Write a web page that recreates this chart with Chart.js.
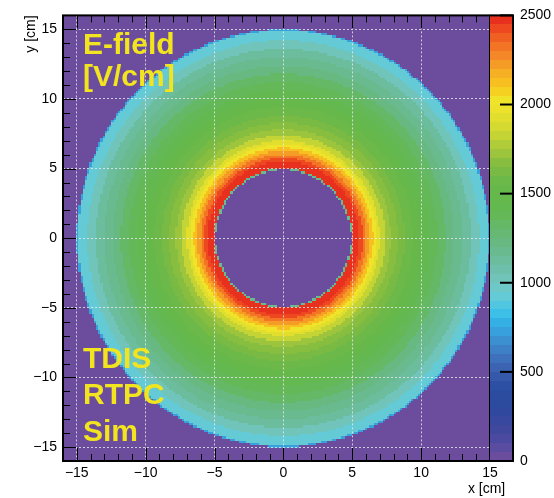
<!DOCTYPE html>
<html>
<head>
<meta charset="utf-8">
<title>E-field map</title>
<script src="https://cdn.jsdelivr.net/npm/chart.js@4.4.0/dist/chart.umd.min.js"></script>
<style>
    html, body { margin: 0; padding: 0; background: #fff; }
    canvas { display: block; }
</style>
</head>
<body>
<canvas id="efield-map" width="554" height="498"></canvas>
<script>
// Histogram binning (cm)
const binLow = -16;
const binHigh = 16;
const binCount = 200;

// Radial profile: band edges (cm) and field in each band (V/cm)
const bandEdges = [4.9, 5.0, 5.5, 5.75, 6.0, 6.25, 6.5, 6.75, 7.0, 7.4, 7.8, 8.3, 8.8,
    9.4, 10.0, 10.6, 11.2, 11.8, 12.4, 13.0, 13.6, 14.2, 14.9, 15.0];
const bandField = [1150, 2480, 2420, 2330, 2230, 2120, 2020, 1920, 1820, 1740, 1670, 1610,
    1560, 1500, 1440, 1370, 1300, 1230, 1160, 1100, 1010, 940, 700];

// Axis ticks
const xTicks = [-15, -10, -5, 0, 5, 10, 15];
const yTicks = [-15, -10, -5, 0, 5, 10, 15];
const zTicks = [0, 500, 1000, 1500, 2000, 2500];

// Labels drawn on the map
const topLabel = ['E-field', '[V/cm]'];
const bottomLabel = ['TDIS', 'RTPC', 'Sim'];

// 50-step palette, violet -> red
const paletteColors = [
    '#6c4c9c', '#5a4ca0', '#4c4aa0', '#40489e', '#38489e', '#30489e', '#2c4a9e', '#2c4ca0',
    '#2e50a4', '#3658a8', '#3c62b2', '#3e70bc', '#3e80c6', '#3c90d0', '#38a0dc', '#34b0e4',
    '#3cc0e8', '#50c6e0', '#64cad6', '#6ec8c8', '#70c4ba', '#6ec0ac', '#6cbc9e', '#6aba90',
    '#68b882', '#66b874', '#64b866', '#64b858', '#64b850', '#64b84c', '#66b84a', '#6cb848',
    '#78ba44', '#88be40', '#9cc43c', '#b0cc38', '#c4d434', '#d4da30', '#e2de2e', '#ece22c',
    '#f0e42a', '#f5d222', '#f7c020', '#f6b024', '#f59c26', '#f48828', '#f27424', '#f06022',
    '#ed4820', '#e8301e'
];

const FONT = "'Liberation Sans', Arial, Helvetica, sans-serif";
const zMax = zTicks[zTicks.length - 1];
const zStep = zMax / paletteColors.length;

/**
 * Field value for a bin centre at radius r
 */
function fieldAt(r) {
    for (let k = 0; k < bandField.length; k++) {
        if (r >= bandEdges[k] && r < bandEdges[k + 1]) return bandField[k];
    }
    return 0;
}

function colorFor(v) {
    const i = Math.min(paletteColors.length - 1, Math.max(0, Math.floor(v / zStep)));
    return paletteColors[i];
}

// Build histogram cells
const binSize = (binHigh - binLow) / binCount;
const cells = [];
for (let i = 0; i < binCount; i++) {
    for (let j = 0; j < binCount; j++) {
        const cx = binLow + (i + 0.5) * binSize;
        const cy = binLow + (j + 0.5) * binSize;
        cells.push({ x: cx, y: cy, v: fieldAt(Math.hypot(cx, cy)) });
    }
}

const minusSign = v => String(v).replace('-', '\u2212');

// Draws the cells through the x/y scales
const heatmapPlugin = {
    id: 'heatmap',
    beforeDatasetsDraw(chart) {
        const { ctx, chartArea: a, scales: { x, y } } = chart;
        const half = binSize / 2;
        ctx.save();
        ctx.beginPath();
        ctx.rect(a.left, a.top, a.width, a.height);
        ctx.clip();
        ctx.fillStyle = paletteColors[0];
        ctx.fillRect(a.left, a.top, a.width, a.height);
        chart.data.datasets[0].data.forEach(c => {
            if (!c.v) return;
            const x0 = Math.round(x.getPixelForValue(c.x - half));
            const x1 = Math.round(x.getPixelForValue(c.x + half));
            const y0 = Math.round(y.getPixelForValue(c.y + half));
            const y1 = Math.round(y.getPixelForValue(c.y - half));
            ctx.fillStyle = colorFor(c.v);
            ctx.fillRect(x0, y0, x1 - x0, y1 - y0);
        });
        ctx.restore();
    }
};

// Palette, frame, inward ticks and text labels
const decorPlugin = {
    id: 'decor',
    afterDraw(chart) {
        const { ctx, chartArea: a, scales: { x, y, z } } = chart;
        const paletteWidth = 24;
        const pl = a.right - paletteWidth;

        ctx.save();
        ctx.strokeStyle = '#000';
        ctx.lineWidth = 1;

        // Inward ticks on the frame
        const tick = (x0, y0, x1, y1) => {
            ctx.beginPath();
            ctx.moveTo(x0, y0);
            ctx.lineTo(x1, y1);
            ctx.stroke();
        };
        for (let v = Math.ceil(x.min); v <= Math.floor(x.max); v++) {
            const px = Math.round(x.getPixelForValue(v)) + 0.5;
            if (px > pl) continue;
            const len = v % 5 === 0 ? 13 : 7;
            tick(px, a.bottom, px, a.bottom - len);
            tick(px, a.top, px, a.top + len);
        }
        for (let v = Math.ceil(y.min); v <= Math.floor(y.max); v++) {
            const py = Math.round(y.getPixelForValue(v)) + 0.5;
            const len = v % 5 === 0 ? 13 : 7;
            tick(a.left, py, a.left + len, py);
        }

        // Colour palette
        paletteColors.forEach((c, i) => {
            const top = Math.round(z.getPixelForValue((i + 1) * zStep));
            const bot = Math.round(z.getPixelForValue(i * zStep));
            ctx.fillStyle = c;
            ctx.fillRect(pl, top, paletteWidth, bot - top);
        });
        ctx.strokeRect(pl + 0.5, a.top, paletteWidth - 0.5, a.height);
        ctx.lineWidth = 2;
        zTicks.forEach(v => {
            const py = z.getPixelForValue(v);
            tick(a.right - 13, py, a.right, py);
        });

        // Frame
        ctx.lineWidth = 2;
        ctx.strokeRect(a.left, a.top, a.width, a.height);

        // Text labels
        ctx.fillStyle = '#f2e41e';
        ctx.font = 'bold 30px ' + FONT;
        ctx.textAlign = 'left';
        ctx.textBaseline = 'alphabetic';
        const lx = x.getPixelForValue(-14.55);
        topLabel.forEach((t, i) => ctx.fillText(t, lx, y.getPixelForValue(13.2 - i * 2.3)));
        bottomLabel.forEach((t, i) => ctx.fillText(t, lx, y.getPixelForValue(-9.3 - i * 2.63)));
        ctx.restore();
    }
};

const tickFont = { family: FONT, size: 14 };

new Chart(document.getElementById('efield-map'), {
    type: 'scatter',
    data: {
        datasets: [{
            label: 'E-field',
            data: cells,
            pointRadius: 0,
            pointHoverRadius: 0
        }]
    },
    options: {
        responsive: false,
        animation: false,
        events: [],
        layout: { padding: { top: 11, left: 0, right: 0, bottom: 0 } },
        plugins: {
            legend: { display: false },
            tooltip: { enabled: false }
        },
        scales: {
            x: {
                type: 'linear',
                min: -16,
                max: 16.67,
                afterBuildTicks: axis => { axis.ticks = xTicks.map(v => ({ value: v })); },
                afterFit: axis => { axis.height = 37; },
                ticks: { font: tickFont, color: '#000', padding: 4, maxRotation: 0, callback: minusSign },
                grid: { z: 1, color: 'rgba(235,235,240,0.8)', lineWidth: 1, drawTicks: false },
                border: { display: false, dash: [2, 2] },
                title: {
                    display: true, text: 'x [cm]  ', align: 'end', color: '#000',
                    font: tickFont, padding: { top: 0, bottom: 0 }
                }
            },
            y: {
                type: 'linear',
                position: 'left',
                min: -16,
                max: 16,
                afterBuildTicks: axis => { axis.ticks = yTicks.map(v => ({ value: v })); },
                afterFit: axis => { axis.width = 63; },
                ticks: { font: tickFont, color: '#000', padding: 6, callback: minusSign },
                grid: { z: 1, color: 'rgba(235,235,240,0.8)', lineWidth: 1, drawTicks: false },
                border: { display: false, dash: [2, 2] },
                title: {
                    display: true, text: 'y [cm]', align: 'end', color: '#000',
                    font: tickFont, padding: { top: 23, bottom: 0 }
                }
            },
            z: {
                type: 'linear',
                position: 'right',
                axis: 'y',
                min: 0,
                max: zMax,
                afterBuildTicks: axis => { axis.ticks = zTicks.map(v => ({ value: v })); },
                afterFit: axis => { axis.width = 41; },
                ticks: { font: tickFont, color: '#000', padding: 7, callback: v => String(v) },
                grid: { display: false, drawTicks: false },
                border: { display: false }
            }
        }
    },
    plugins: [heatmapPlugin, decorPlugin]
});
</script>
</body>
</html>
